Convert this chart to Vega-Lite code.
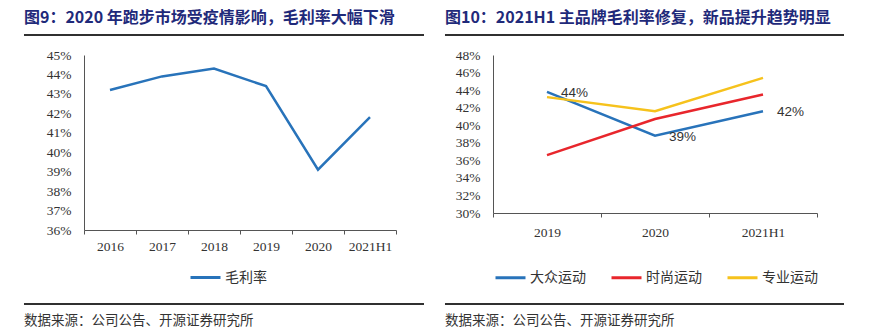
{
  "$schema": "https://vega.github.io/schema/vega-lite/v6.json",
  "background": "white",
  "padding": {"left": 23, "top": 10, "right": 0, "bottom": 0},
  "spacing": 20,
  "resolve": {"scale": {"color": "independent", "x": "independent", "y": "independent"}, "legend": {"color": "independent"}},
  "config": {
    "view": {"stroke": null},
    "font": "Noto Sans CJK SC",
    "title": {"font": "Noto Sans CJK SC", "fontSize": 16, "fontWeight": "bold", "color": "#1F2A7A", "anchor": "start", "baseline": "bottom", "offset": 8},
    "axis": {"labelFont": "Liberation Serif", "labelFontSize": 13.5, "labelColor": "#333333", "domainColor": "#555555", "tickColor": "#555555", "grid": false, "title": null},
    "legend": {"title": null, "labelFont": "Noto Sans CJK SC", "labelFontSize": 14, "labelColor": "#333333", "symbolType": "stroke", "symbolStrokeWidth": 3, "symbolSize": 900, "labelOffset": 3, "columnPadding": 19}
  },
  "hconcat": [
    {
      "spacing": 6,
      "resolve": {"scale": {"color": "independent", "x": "independent", "y": "independent"}, "legend": {"color": "independent"}},
      "vconcat": [
        {
          "title": "图9：2020 年跑步市场受疫情影响，毛利率大幅下滑",
          "width": 340, "height": 8,
          "data": {"values": [{"x0": -0.1765, "x1": 1, "y0": 0.75, "y1": 1}]},
          "mark": {"type": "rect", "fill": "#303030"},
          "encoding": {
            "x": {"field": "x0", "type": "quantitative", "scale": {"domain": [0, 1], "zero": false, "nice": false}, "axis": null},
            "x2": {"field": "x1"},
            "y": {"field": "y0", "type": "quantitative", "scale": {"domain": [0, 1], "zero": false, "nice": false}, "axis": null},
            "y2": {"field": "y1"}
          }
        },
        {
          "width": 312, "height": 175,
          "data": {"values": [
            {"year": "2016", "series": "毛利率", "value": 0.432},
            {"year": "2017", "series": "毛利率", "value": 0.439},
            {"year": "2018", "series": "毛利率", "value": 0.443},
            {"year": "2019", "series": "毛利率", "value": 0.434},
            {"year": "2020", "series": "毛利率", "value": 0.391},
            {"year": "2021H1", "series": "毛利率", "value": 0.418}
          ]},
          "mark": {"type": "line", "strokeWidth": 2.5},
          "encoding": {
            "x": {"field": "year", "type": "ordinal", "sort": null,
                  "scale": {"type": "band", "paddingInner": 0, "paddingOuter": 0},
                  "axis": {"labelAngle": 0, "tickBand": "extent", "tickSize": 4, "labelPadding": 5}},
            "y": {"field": "value", "type": "quantitative",
                  "scale": {"domain": [0.36, 0.45], "nice": false, "zero": false},
                  "axis": {"values": [0.36, 0.37, 0.38, 0.39, 0.40, 0.41, 0.42, 0.43, 0.44, 0.45], "format": ".0%", "ticks": false, "labelPadding": 13, "minExtent": 60}},
            "color": {"field": "series", "type": "nominal",
                      "scale": {"domain": ["毛利率"], "range": ["#2873BA"]},
                      "legend": {"orient": "none", "legendX": 99, "legendY": 200, "padding": 6, "direction": "horizontal"}}
          }
        },
        {
          "title": {"text": "数据来源：公司公告、开源证券研究所", "orient": "bottom", "baseline": "top", "fontSize": 13.5, "fontWeight": "normal", "color": "#333333", "offset": 9},
          "width": 340, "height": 8,
          "data": {"values": [{"x0": -0.1765, "x1": 1, "y0": 0, "y1": 0.25}]},
          "mark": {"type": "rect", "fill": "#303030"},
          "encoding": {
            "x": {"field": "x0", "type": "quantitative", "scale": {"domain": [0, 1], "zero": false, "nice": false}, "axis": null},
            "x2": {"field": "x1"},
            "y": {"field": "y0", "type": "quantitative", "scale": {"domain": [0, 1], "zero": false, "nice": false}, "axis": null},
            "y2": {"field": "y1"}
          }
        }
      ]
    },
    {
      "spacing": 6,
      "resolve": {"scale": {"color": "independent", "x": "independent", "y": "independent"}, "legend": {"color": "independent"}},
      "vconcat": [
        {
          "title": "图10：2021H1 主品牌毛利率修复，新品提升趋势明显",
          "width": 351, "height": 8,
          "data": {"values": [{"x0": -0.1368, "x1": 1, "y0": 0.75, "y1": 1}]},
          "mark": {"type": "rect", "fill": "#303030"},
          "encoding": {
            "x": {"field": "x0", "type": "quantitative", "scale": {"domain": [0, 1], "zero": false, "nice": false}, "axis": null},
            "x2": {"field": "x1"},
            "y": {"field": "y0", "type": "quantitative", "scale": {"domain": [0, 1], "zero": false, "nice": false}, "axis": null},
            "y2": {"field": "y1"}
          }
        },
        {
          "width": 324, "height": 158,
          "data": {"values": [
            {"year": "2019", "series": "大众运动", "value": 0.438},
            {"year": "2020", "series": "大众运动", "value": 0.388},
            {"year": "2021H1", "series": "大众运动", "value": 0.416},
            {"year": "2019", "series": "时尚运动", "value": 0.366},
            {"year": "2020", "series": "时尚运动", "value": 0.407},
            {"year": "2021H1", "series": "时尚运动", "value": 0.435},
            {"year": "2019", "series": "专业运动", "value": 0.432},
            {"year": "2020", "series": "专业运动", "value": 0.416},
            {"year": "2021H1", "series": "专业运动", "value": 0.454}
          ]},
          "encoding": {
            "x": {"field": "year", "type": "ordinal", "sort": null,
                  "scale": {"type": "band", "paddingInner": 0, "paddingOuter": 0},
                  "axis": {"labelAngle": 0, "tickBand": "extent", "tickSize": 4, "labelPadding": 8}},
            "y": {"field": "value", "type": "quantitative",
                  "scale": {"domain": [0.30, 0.48], "nice": false, "zero": false},
                  "axis": {"values": [0.30, 0.32, 0.34, 0.36, 0.38, 0.40, 0.42, 0.44, 0.46, 0.48], "format": ".0%", "ticks": false, "labelPadding": 13, "minExtent": 48}}
          },
          "layer": [
            {
              "mark": {"type": "line", "strokeWidth": 2.5},
              "encoding": {
                "color": {"field": "series", "type": "nominal", "sort": null,
                          "scale": {"domain": ["大众运动", "时尚运动", "专业运动"], "range": ["#2873BA", "#E8262C", "#F6C21C"]},
                          "legend": {"orient": "none", "legendX": -5, "legendY": 200, "padding": 6, "direction": "horizontal"}}
              }
            },
            {
              "transform": [{"filter": "datum.series === '大众运动'"}],
              "mark": {"type": "text", "align": "left", "baseline": "middle", "dx": 14, "dy": 1, "font": "Liberation Sans", "fontSize": 13.5, "fill": "#333333"},
              "encoding": {
                "text": {"field": "value", "type": "quantitative", "format": ".0%"}
              }
            }
          ]
        },
        {
          "title": {"text": "数据来源：公司公告、开源证券研究所", "orient": "bottom", "baseline": "top", "fontSize": 13.5, "fontWeight": "normal", "color": "#333333", "offset": 9},
          "width": 351, "height": 8,
          "data": {"values": [{"x0": -0.1368, "x1": 1, "y0": 0, "y1": 0.25}]},
          "mark": {"type": "rect", "fill": "#303030"},
          "encoding": {
            "x": {"field": "x0", "type": "quantitative", "scale": {"domain": [0, 1], "zero": false, "nice": false}, "axis": null},
            "x2": {"field": "x1"},
            "y": {"field": "y0", "type": "quantitative", "scale": {"domain": [0, 1], "zero": false, "nice": false}, "axis": null},
            "y2": {"field": "y1"}
          }
        }
      ]
    }
  ]
}
